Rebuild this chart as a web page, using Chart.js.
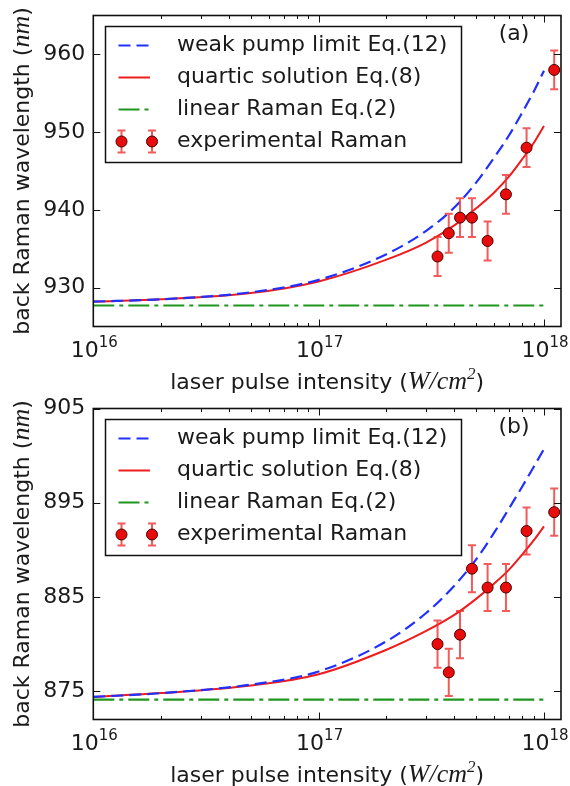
<!DOCTYPE html>
<html>
<head>
<meta charset="utf-8">
<script src="https://cdn.jsdelivr.net/npm/chart.js@4.4.1/dist/chart.umd.min.js"></script>
<style>
  html, body { margin: 0; padding: 0; background: #fff; }
  #wrap { width: 570px; height: 786px; }
  canvas { display: block; }
</style>
</head>
<body>
<div id="wrap">
  <canvas id="chartA" width="570" height="393"></canvas>
  <canvas id="chartB" width="570" height="393"></canvas>
</div>
<script>
// ===== DATA =====
const seriesNames = ['weak pump limit Eq.(12)', 'quartic solution Eq.(8)', 'linear Raman Eq.(2)', 'experimental Raman'];

// axis ranges and tick labels
const xRange = [1e16, 1.19e18];
const xTicks = [1e16, 1e17, 1e18];
const yRangeA = [925, 965];
const yTicksA = [930, 940, 950, 960];
const yRangeB = [872, 905];
const yTicksB = [875, 885, 895, 905];

// model curves, sampled at these intensities (W/cm^2)
const curveX = [1e16, 2e16, 5e16, 1e17, 2e17, 3e17, 4e17, 5e17, 6e17, 7e17, 8e17, 9e17, 1e18];
const weakA    = [928.2, 928.5, 929.4, 931.0, 934.3, 937.3, 940.3, 943.5, 946.7, 949.6, 952.5, 955.2, 957.9];
const quarticA = [928.2, 928.5, 929.3, 930.8, 933.6, 935.8, 938.0, 940.2, 942.2, 944.3, 946.5, 948.6, 950.8];
const weakB    = [874.4, 874.8, 875.7, 877.1, 880.3, 883.3, 886.2, 889.0, 891.8, 894.4, 896.7, 898.8, 900.7];
const quarticB = [874.4, 874.8, 875.6, 876.8, 879.4, 881.4, 883.1, 884.8, 886.4, 887.9, 889.5, 891.0, 892.5];

// linear Raman (flat)
const linearX = [1e16, 1e18];
const linearA = [927.7, 927.7];
const linearB = [874.1, 874.1];

// experimental points
const expX = [3.37e17, 3.78e17, 4.24e17, 4.79e17, 5.62e17, 6.78e17, 8.37e17, 1.11e18];
const expA = [934, 937, 939, 939, 936, 942, 948, 958];
const errA = [2.5, 2.5, 2.5, 2.5, 2.5, 2.5, 2.5, 2.5];
const expB = [880, 877, 881, 888, 886, 886, 892, 894];
const errB = [2.5, 2.5, 2.5, 2.5, 2.5, 2.5, 2.5, 2.5];

// ===== STYLE =====
const FONT = '"DejaVu Sans"';
const TEXT = '#1a1a1a';
const BLUE = '#2030ff';
const RED = '#ee1c1c';
const GREEN = '#1f961f';
const BAR = 'rgba(238, 50, 50, 0.8)';

Chart.defaults.font.family = FONT;
Chart.defaults.font.size = 22;
Chart.defaults.color = TEXT;

const pts = (xs, ys) => xs.map((x, i) => ({ x: x, y: ys[i] }));

// error bars, drawn right before the marker dataset
const errorBars = {
    id: 'errorBars',
    beforeDatasetDraw(chart, args) {
        const d = chart.data.datasets[args.index];
        if (!d.yErr) return;
        const { ctx, scales: { x, y } } = chart;
        ctx.save();
        ctx.strokeStyle = BAR;
        ctx.lineWidth = 2;
        d.data.forEach((p, i) => {
            const px = x.getPixelForValue(p.x);
            const top = y.getPixelForValue(p.y + d.yErr[i]);
            const bot = y.getPixelForValue(p.y - d.yErr[i]);
            ctx.beginPath();
            ctx.moveTo(px, top); ctx.lineTo(px, bot);
            ctx.moveTo(px - 4, top); ctx.lineTo(px + 4, top);
            ctx.moveTo(px - 4, bot); ctx.lineTo(px + 4, bot);
            ctx.stroke();
        });
        ctx.restore();
    }
};

// box round the plot with inward ticks, matplotlib style
const frame = {
    id: 'frame',
    afterDatasetsDraw(chart) {
        const { ctx, chartArea: a, scales: { x, y } } = chart;
        ctx.save();
        ctx.strokeStyle = '#111';
        ctx.lineWidth = 1;
        ctx.beginPath();
        x.ticks.forEach(t => {
            if (t.value > x.max) return;
            const e = Math.floor(Math.log10(t.value) + 1e-9);
            const sig = t.value / Math.pow(10, e);
            if (Math.abs(sig - Math.round(sig)) > 1e-6) return;
            const px = Math.round(x.getPixelForValue(t.value)) + 0.5;
            const len = Math.round(sig) === 1 ? 7 : 3.5;
            ctx.moveTo(px, a.bottom); ctx.lineTo(px, a.bottom - len);
            ctx.moveTo(px, a.top); ctx.lineTo(px, a.top + len);
        });
        y.ticks.forEach(t => {
            const py = Math.round(y.getPixelForValue(t.value)) + 0.5;
            ctx.moveTo(a.left, py); ctx.lineTo(a.left + 7, py);
            ctx.moveTo(a.right, py); ctx.lineTo(a.right - 7, py);
        });
        ctx.stroke();
        ctx.lineWidth = 1.6;
        ctx.strokeRect(a.left, a.top, a.right - a.left, a.bottom - a.top);
        ctx.restore();
    }
};

// measure a run of differently styled pieces and draw it centred on x0
function drawParts(ctx, parts, x0, y0) {
    let total = 0;
    parts.forEach(p => { ctx.font = p.font; p.w = ctx.measureText(p.t).width; total += p.w; });
    let cx = x0 - total / 2;
    parts.forEach(p => {
        ctx.font = p.font;
        ctx.fillText(p.t, cx, y0 + (p.dy || 0));
        cx += p.w;
    });
}

const titles = {
    id: 'titles',
    afterDraw(chart) {
        const { ctx, chartArea: a, scales: { x } } = chart;
        const sans = '22px ' + FONT;
        const ital = 'italic 26px "Liberation Serif"';
        ctx.save();
        ctx.fillStyle = TEXT;
        ctx.textBaseline = 'alphabetic';
        ctx.textAlign = 'left';

        // x tick labels as 10 with a raised exponent
        xTicks.forEach(v => {
            drawParts(ctx, [
                { t: '10', font: sans },
                { t: String(Math.round(Math.log10(v))), font: '15px ' + FONT, dy: -10 }
            ], x.getPixelForValue(v) + 1, a.bottom + 30);
        });

        drawParts(ctx, [
            { t: 'laser pulse intensity (', font: sans },
            { t: 'W/cm', font: ital },
            { t: '2', font: 'italic 17px "Liberation Serif"', dy: -10 },
            { t: ')', font: sans }
        ], (a.left + a.right) / 2, a.bottom + 62);

        ctx.translate(28.5, (a.top + a.bottom) / 2);
        ctx.rotate(-Math.PI / 2);
        drawParts(ctx, [
            { t: 'back Raman wavelength (', font: sans },
            { t: 'nm', font: ital },
            { t: ')', font: sans }
        ], 0, 0);
        ctx.restore();

        // panel tag
        ctx.save();
        ctx.fillStyle = TEXT;
        ctx.font = '22px ' + FONT;
        ctx.textAlign = 'center';
        ctx.textBaseline = 'middle';
        ctx.fillText(chart.options.plugins.tag, 514, 34);
        ctx.restore();
    }
};

// legend box in the upper left
const legendBox = {
    id: 'legendBox',
    afterDraw(chart) {
        const ctx = chart.ctx;
        const bx = 105.5, by = 26.5, bw = 356, bh = 136;
        ctx.save();
        ctx.fillStyle = '#fff';
        ctx.fillRect(bx, by, bw, bh);
        ctx.strokeStyle = '#111';
        ctx.lineWidth = 1.5;
        ctx.strokeRect(bx, by, bw, bh);
        seriesNames.forEach((name, i) => {
            const d = chart.data.datasets.find(s => s.label === name);
            const ry = by + 19 + 32 * i;
            if (d.yErr) {
                [121.5, 152].forEach(mx => {
                    ctx.strokeStyle = BAR;
                    ctx.lineWidth = 2;
                    ctx.setLineDash([]);
                    ctx.beginPath();
                    ctx.moveTo(mx, ry - 11); ctx.lineTo(mx, ry + 11);
                    ctx.moveTo(mx - 4, ry - 11); ctx.lineTo(mx + 4, ry - 11);
                    ctx.moveTo(mx - 4, ry + 11); ctx.lineTo(mx + 4, ry + 11);
                    ctx.stroke();
                    ctx.beginPath();
                    ctx.arc(mx, ry, d.pointRadius, 0, Math.PI * 2);
                    ctx.fillStyle = d.pointBackgroundColor;
                    ctx.fill();
                    ctx.lineWidth = 1;
                    ctx.strokeStyle = d.pointBorderColor;
                    ctx.stroke();
                });
            } else {
                ctx.strokeStyle = d.borderColor;
                ctx.lineWidth = d.borderWidth;
                ctx.setLineDash(d.borderDash || []);
                ctx.beginPath();
                ctx.moveTo(118.5, ry); ctx.lineTo(150, ry);
                ctx.stroke();
            }
            ctx.setLineDash([]);
            ctx.fillStyle = TEXT;
            ctx.font = '22px ' + FONT;
            ctx.textBaseline = 'middle';
            ctx.fillText(name, 177, ry);
        });
        ctx.restore();
    }
};

function makePanel(id, tag, weak, quartic, linear, exp, err, yRange, yTicks) {
    return new Chart(document.getElementById(id), {
        type: 'line',
        data: {
            datasets: [
                {
                    label: seriesNames[3],
                    data: pts(expX, exp),
                    yErr: err,
                    showLine: false,
                    pointRadius: 5.5,
                    pointBackgroundColor: '#e80c0c',
                    pointBorderColor: '#4a0000',
                    pointBorderWidth: 1,
                    order: 0
                },
                {
                    label: seriesNames[0],
                    data: pts(curveX, weak),
                    borderColor: BLUE,
                    borderWidth: 2.2,
                    borderDash: [12, 6],
                    pointRadius: 0,
                    cubicInterpolationMode: 'monotone',
                    order: 1
                },
                {
                    label: seriesNames[1],
                    data: pts(curveX, quartic),
                    borderColor: RED,
                    borderWidth: 2,
                    pointRadius: 0,
                    cubicInterpolationMode: 'monotone',
                    order: 2
                },
                {
                    label: seriesNames[2],
                    data: pts(linearX, linear),
                    borderColor: GREEN,
                    borderWidth: 2.2,
                    borderDash: [21, 5, 4, 5],
                    pointRadius: 0,
                    order: 3
                }
            ]
        },
        options: {
            responsive: false,
            animation: false,
            layout: { padding: { top: 15.5, right: 9, left: 0, bottom: 0 } },
            plugins: {
                legend: { display: false },
                tooltip: { enabled: false },
                tag: tag
            },
            scales: {
                x: {
                    type: 'logarithmic',
                    min: xRange[0],
                    max: xRange[1],
                    grid: { display: false, drawTicks: false },
                    border: { display: false },
                    ticks: { autoSkip: false, maxRotation: 0, callback: () => '' },
                    afterFit: s => { s.height = 66.5; s.paddingLeft = 0; s.paddingRight = 0; }
                },
                y: {
                    type: 'linear',
                    min: yRange[0],
                    max: yRange[1],
                    grid: { display: false, drawTicks: false },
                    border: { display: false },
                    afterBuildTicks: s => { s.ticks = yTicks.map(v => ({ value: v })); },
                    ticks: { padding: 8, color: TEXT },
                    afterFit: s => { s.width = 93.3; s.paddingTop = 0; s.paddingBottom = 0; }
                }
            }
        },
        plugins: [errorBars, frame, titles, legendBox]
    });
}

makePanel('chartA', '(a)', weakA, quarticA, linearA, expA, errA, yRangeA, yTicksA);
makePanel('chartB', '(b)', weakB, quarticB, linearB, expB, errB, yRangeB, yTicksB);
</script>
</body>
</html>
